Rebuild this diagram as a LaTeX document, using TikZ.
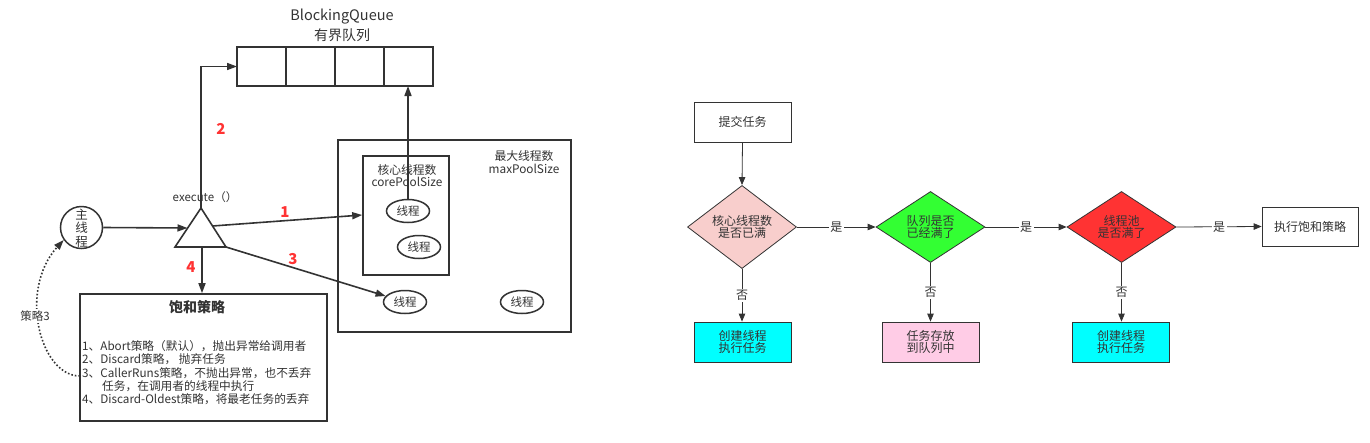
\documentclass[tikz,border=0pt]{standalone}
\usepackage{fontspec}
\setmainfont{Noto Sans CJK SC}
\usetikzlibrary{arrows.meta,shapes.geometric}
\definecolor{ink}{HTML}{333333}
\definecolor{redn}{HTML}{FF3333}
\definecolor{dpink}{HTML}{F8CECC}
\definecolor{dgreen}{HTML}{33FF33}
\definecolor{dred}{HTML}{FF3333}
\definecolor{bcyan}{HTML}{00FFFF}
\definecolor{bpink}{HTML}{FFCCE6}
\newcommand{\fs}[1]{\fontsize{#1}{#1}\selectfont}
\tikzset{
  lw/.style={line width=1.6pt, draw=ink},
  ar/.style={-{Triangle[length=10pt,width=7pt]}},
  far/.style={draw=ink, line width=0.8pt, -{Triangle[length=8pt,width=6.5pt]}},
  cell/.style={draw=ink, line width=1.8pt, minimum width=49pt, minimum height=39pt, inner sep=0pt, outer sep=0pt},
  thr/.style={ellipse, draw=ink, line width=1.5pt, minimum width=43pt, minimum height=23pt, inner sep=0pt, font=\fs{11.5}, text=ink},
  frame/.style={draw=ink, line width=1.6pt, inner sep=0pt},
  txt/.style={font=\fs{11.8}, text=ink, align=center, inner sep=0pt},
  rednum/.style={font=\fs{15}\bfseries, text=redn, inner sep=0pt},
  fbox/.style={draw=ink, line width=0.8pt, minimum width=97pt, minimum height=40pt, inner sep=0pt, align=center, font=\fs{12}, text=ink},
  dia/.style={diamond, draw=ink, line width=0.8pt, minimum width=109pt, minimum height=71pt, inner sep=0pt, align=center, font=\fs{12}, text=ink},
  lab/.style={fill=white, font=\fs{12}, text=ink, inner sep=1.5pt}
}
\begin{document}
\begin{tikzpicture}[x=1pt,y=-1pt]
\useasboundingbox (0,0) rectangle (1370,442);
\fill[white] (0,0) rectangle (1370,442);

% ---------- queue ----------
\node[txt, font=\fs{14.5}] (bq) at (342,17) {BlockingQueue};
\node[txt, font=\fs{14}] (bq2) at (342,35) {有界队列};
\node[cell] (c1) at (261.5,66.5) {};
\node[cell] (c2) at (310.5,66.5) {};
\node[cell] (c3) at (359.5,66.5) {};
\node[cell] (c4) at (408.5,66.5) {};

% ---------- main thread & execute ----------
\node[circle, draw=ink, line width=1.5pt, minimum size=42pt, inner sep=0pt] (m) at (81.5,227.5) {};
\node[txt, font=\fs{12.5}] at (81.5,214.5) {主};
\node[txt, font=\fs{12.5}] at (81.5,228) {线};
\node[txt, font=\fs{12.5}] at (81.5,241.5) {程};

\coordinate (ta) at (201,208);
\coordinate (tl) at (175,247);
\coordinate (tr) at (226,247);
\coordinate (tin) at (187.5,228);
\coordinate (t1) at (212.5,226);
\coordinate (tb) at (202,247);
\draw[lw, line join=miter] (ta) -- (tl) -- (tr) -- cycle;
\node[txt, font=\fs{11.5}] (exe) at (205,197) {execute（）};

% ---------- pools ----------
\node[frame, minimum width=233pt, minimum height=192pt] (mx) at (454.5,236) {};
\node[frame, minimum width=86pt, minimum height=119pt] (cb) at (406,215.5) {};
\node[txt] (mxt) at (524,162) {最大线程数\\[1pt]maxPoolSize};
\node[txt] (cbt) at (407,175.5) {核心线程数\\[1pt]corePoolSize};
\node[thr] (th1) at (408,211) {线程};
\node[thr] (th2) at (419,247) {线程};
\node[thr] (th3) at (405,302) {线程};
\node[thr] (th4) at (522,302) {线程};

% ---------- saturation box ----------
\node[frame, minimum width=247pt, minimum height=127pt] (sat) at (203.5,357.5) {};
\node[txt, font=\fs{14}\bfseries] (satt) at (197,307) {饱和策略};
\node[font=\fs{11.7}, text=ink, align=left, anchor=north west, inner sep=0pt] (satl) at (82,340)
  {1、Abort策略（默认），抛出异常给调用者\\[1.7pt]
   2、Discard策略， 抛弃任务\\[1.7pt]
   3、CallerRuns策略，不抛出异常，也不丢弃\\[1.7pt]
   \hspace*{20pt}任务，在调用者的线程中执行\\[1.7pt]
   4、Discard-Oldest策略，将最老任务的丢弃};

% ---------- connectors ----------
\draw[lw, ar] (m.east) -- (tin);
\draw[lw, ar] (ta) |- (c1.west);
\draw[lw, ar] (t1) -- (cb.west |- 0,215);
\draw[lw, ar] (tr) -- (th3);
\draw[lw, ar] (tb) -- (tb |- sat.north);
\draw[lw, ar] (th1.north) -- (th1.north |- c4.south);
\coordinate (ds) at (80,376);
\draw[ink, line width=1.6pt, dotted, ar] (ds) .. controls (40,376) and (18,290) .. (m.215);
\node[lab, font=\fs{11.5}] (s3) at (35,316) {策略3};

\node[rednum] (n2) at (221,129) {2};
\node[rednum] (n1) at (285,212) {1};
\node[rednum] (n3) at (293,259) {3};
\node[rednum] (n4) at (191,267) {4};

% ---------- flowchart ----------
\node[fbox] (sub) at (742.5,122) {提交任务};
\node[dia, fill=dpink] (d1) at (742,227) {核心线程数\\是否已满};
\node[dia, fill=dgreen] (d2) at (930.5,227) {队列是否\\已经满了};
\node[dia, fill=dred] (d3) at (1121.5,227) {线程池\\是否满了};
\node[fbox, minimum width=96pt, minimum height=39pt] (ss) at (1310,226.5) {执行饱和策略};
\node[fbox, fill=bcyan] (r1) at (742.5,342) {创建线程\\执行任务};
\node[fbox, fill=bpink] (r2) at (930.5,342) {任务存放\\到队列中};
\node[fbox, fill=bcyan] (r3) at (1121,342) {创建线程\\执行任务};

\draw[far] (sub.south) -- (d1.north);
\draw[far] (d1.east) -- node[lab] {是} (d2.west);
\draw[far] (d2.east) -- node[lab] {是} (d3.west);
\draw[far] (d3.east) -- node[lab] {是} (ss.west);
\draw[far] (d1.south) -- node[lab] {否} (d1.south |- r1.north);
\draw[far] (d2.south) -- node[lab] {否} (d2.south |- r2.north);
\draw[far] (d3.south) -- node[lab] {否} (d3.south |- r3.north);
\end{tikzpicture}
\end{document}
